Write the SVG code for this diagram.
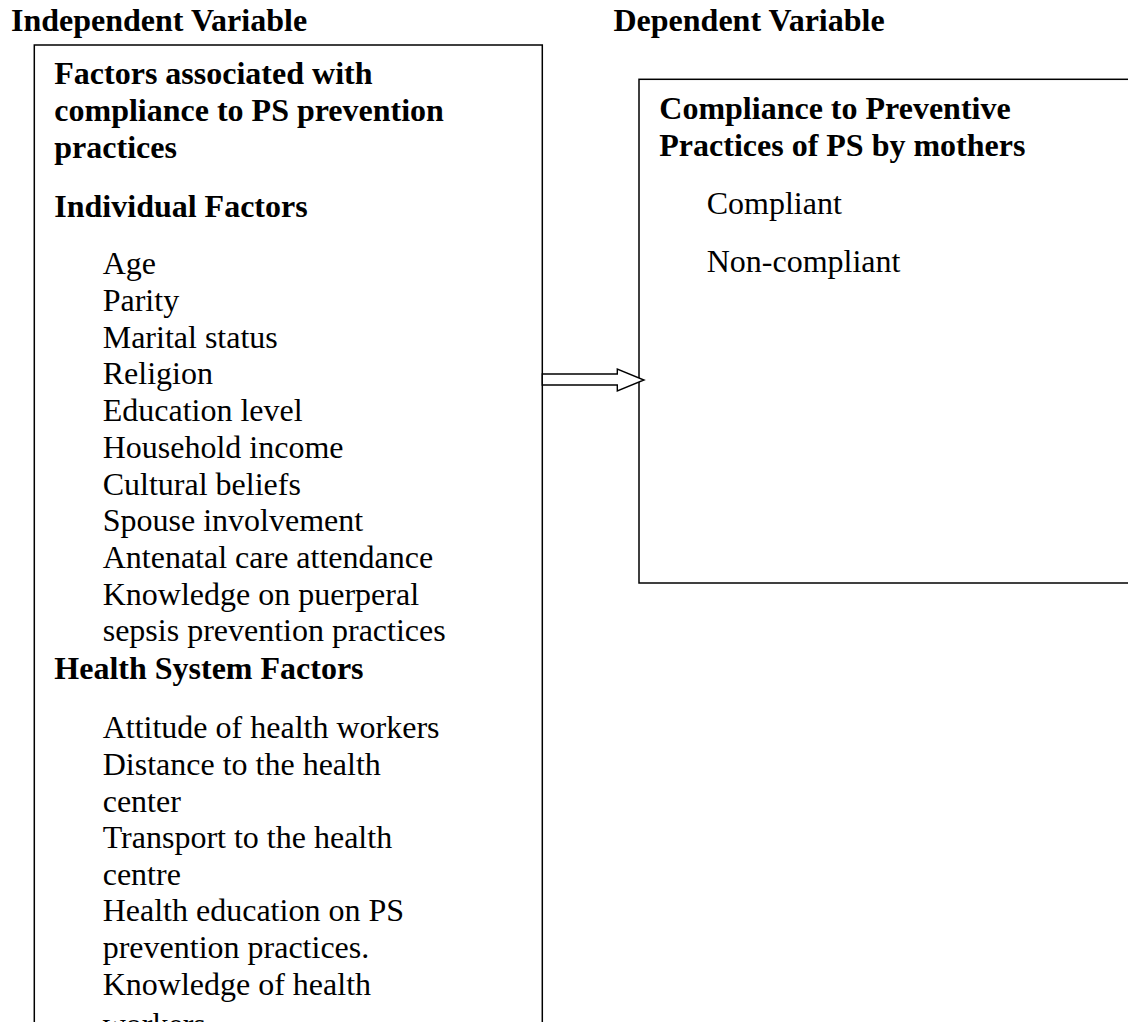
<svg xmlns="http://www.w3.org/2000/svg" width="1128" height="1022" viewBox="0 0 1128 1022">
<style>
.t{font-family:"Liberation Serif","Times New Roman",serif;font-size:32px;fill:#000}
.b{font-weight:bold}
.box{fill:#fff;stroke:#000;stroke-width:1.5}
</style>
<rect width="1128" height="1022" fill="#fff"/>
<g id="headings">
<text class="t b" x="11" y="31">Independent Variable</text>
<text class="t b" x="613.5" y="31">Dependent Variable</text>
</g>
<g id="independent">
<rect class="box" x="34.3" y="45" width="508" height="1100"/>
<text class="t b" x="54.3" y="84.3">Factors associated with</text>
<text class="t b" x="54.3" y="121">compliance to PS prevention</text>
<text class="t b" x="54.3" y="157.7">practices</text>
<text class="t b" x="54.3" y="216.7">Individual Factors</text>
<text class="t" x="102.7" y="274.3">Age</text>
<text class="t" x="102.7" y="311">Parity</text>
<text class="t" x="102.7" y="347.7">Marital status</text>
<text class="t" x="102.7" y="384.4">Religion</text>
<text class="t" x="102.7" y="421.1">Education level</text>
<text class="t" x="102.7" y="457.8">Household income</text>
<text class="t" x="102.7" y="494.5">Cultural beliefs</text>
<text class="t" x="102.7" y="531.2">Spouse involvement</text>
<text class="t" x="102.7" y="567.9">Antenatal care attendance</text>
<text class="t" x="102.7" y="604.6">Knowledge on puerperal</text>
<text class="t" x="102.7" y="641.3">sepsis prevention practices</text>
<text class="t b" x="54.3" y="679">Health System Factors</text>
<text class="t" x="102.7" y="738.3">Attitude of health workers</text>
<text class="t" x="102.7" y="774.9">Distance to the health</text>
<text class="t" x="102.7" y="811.5">center</text>
<text class="t" x="102.7" y="848.1">Transport to the health</text>
<text class="t" x="102.7" y="884.7">centre</text>
<text class="t" x="102.7" y="921.3">Health education on PS</text>
<text class="t" x="102.7" y="957.9">prevention practices.</text>
<text class="t" x="102.7" y="994.5">Knowledge of health</text>
<text class="t" x="102.7" y="1035">workers</text>
</g>
<g id="dependent">
<rect class="box" x="639" y="79.3" width="520" height="503.7"/>
<text class="t b" x="659.3" y="119.3">Compliance to Preventive</text>
<text class="t b" x="659.3" y="156.3">Practices of PS by mothers</text>
<text class="t" x="706.7" y="214.3">Compliant</text>
<text class="t" x="706.7" y="272">Non-compliant</text>
</g>
<g id="connectors">
<polygon points="542.3,374 617.3,374 617.3,369 644,380 617.3,391 617.3,385 542.3,385" fill="#fff" stroke="#000" stroke-width="1.4" stroke-linejoin="miter"/>
</g>
</svg>
